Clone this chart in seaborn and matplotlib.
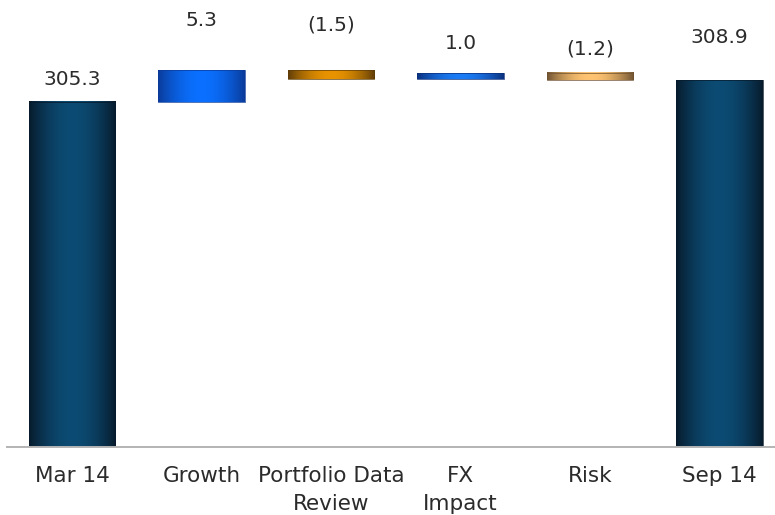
import numpy as np
import pandas as pd
import matplotlib
matplotlib.use("Agg")
import matplotlib.pyplot as plt
import seaborn as sns

# Waterfall data: opening balance, movements, closing balance
categories = ["Mar 14", "Growth", "Portfolio Data\nReview", "FX\nImpact", "Risk", "Sep 14"]
values = [305.3, 5.3, -1.5, 1.0, -1.2, 308.9]
value_labels = ["305.3", "5.3", "(1.5)", "1.0", "(1.2)", "308.9"]
is_total = [True, False, False, False, False, True]

# Shading per bar: (edge colour, centre highlight colour)
shades = [
    ("#071a2b", "#0c4b73"),
    ("#0a3a98", "#0a70ff"),
    ("#5e3c08", "#e99300"),
    ("#0a2f7c", "#1b7cf5"),
    ("#6e5232", "#ffc472"),
    ("#071a2b", "#0c4b73"),
]
# Vertical offset of each value label above its bar (pixels)
label_offsets = [22, 50, 45, 30, 24, 43]

# Floating bar geometry from the running total
bottoms, heights = [], []
running = 0.0
for v, tot in zip(values, is_total):
    if tot:
        bottoms.append(0.0)
        heights.append(v)
        running = v
    else:
        lo, hi = sorted([running, running + v])
        bottoms.append(lo)
        heights.append(hi - lo)
        running += v

df = pd.DataFrame({"category": categories, "height": heights})

sns.set_theme(style="white")
plt.rcParams["font.family"] = ["DejaVu Sans"]

W, H, DPI = 775, 515, 100
fig = plt.figure(figsize=(W / DPI, H / DPI), dpi=DPI)
ax_left, ax_right, ax_bottom = 7, 775, 447
ax = fig.add_axes([ax_left / W, (H - ax_bottom) / H, (ax_right - ax_left) / W, ax_bottom / H])

sns.barplot(
    data=df, x="category", y="height", color="#0c4b73", errorbar=None,
    width=0.668, bottom=bottoms, ax=ax, order=categories,
    linewidth=0.5, edgecolor="#1c2c3c",
)

# Cylinder-style horizontal gradient filling each bar
t = np.linspace(0, 1, 256)
profile = np.sin(np.pi * t) ** 0.9
bars = list(ax.patches)[: len(categories)]
for patch, (edge, centre) in zip(bars, shades):
    patch.set_facecolor("none")
    patch.set_edgecolor(edge)
    e = np.array(matplotlib.colors.to_rgb(edge))
    c = np.array(matplotlib.colors.to_rgb(centre))
    img = e[None, :] + (c - e)[None, :] * profile[:, None]
    x0, y0 = patch.get_x(), patch.get_y()
    w, h = patch.get_width(), patch.get_height()
    ax.imshow(img[None, :, :], extent=[x0, x0 + w, y0, y0 + h],
              aspect="auto", zorder=patch.get_zorder() - 0.1,
              interpolation="bilinear")

# Value labels at the top of each bar
for i, (b, h, lab, off) in enumerate(zip(bottoms, heights, value_labels, label_offsets)):
    ax.annotate(lab, xy=(i, b + h), xytext=(0, off), textcoords="offset pixels",
                ha="center", va="center", fontsize=14.5, color="#2b2b2b")

ax.set_xlim((ax_left - 72) / 129.5, (ax_right - 72) / 129.5)
ymin, px_per_unit = 247.8, 6.0
ax.set_ylim(ymin, ymin + ax_bottom / px_per_unit)

ax.set_xlabel("")
ax.set_ylabel("")
ax.set_yticks([])
for s in ["top", "right", "left"]:
    ax.spines[s].set_visible(False)
ax.spines["bottom"].set_color("#b4b4b4")
ax.spines["bottom"].set_linewidth(1.4)
ax.spines["bottom"].set_zorder(5)
ax.tick_params(axis="x", length=0, pad=14, labelsize=15.5, labelcolor="#2b2b2b")
for lbl in ax.get_xticklabels():
    lbl.set_linespacing(1.45)
ax.patch.set_alpha(0)

fig.savefig("out.png", dpi=DPI, facecolor="white")
